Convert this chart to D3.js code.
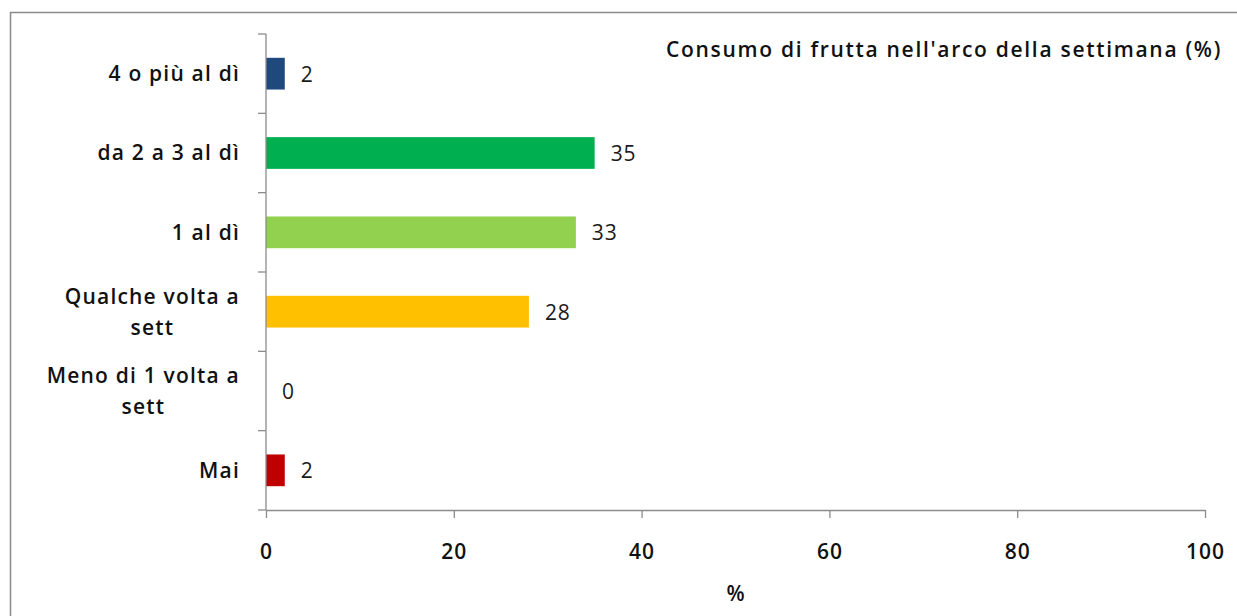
<!DOCTYPE html>
<html><head><meta charset="utf-8">
<script src="https://cdn.jsdelivr.net/npm/d3@7"></script>
<style>body{margin:0;background:#fff}svg{display:block}</style>
</head><body>
<svg id="c" width="1237" height="616"></svg>
<script>
const categories = ["4 o più al dì", "da 2 a 3 al dì", "1 al dì", "Qualche volta a sett", "Meno di 1 volta a sett", "Mai"];
const categoryLines = [["4 o più al dì"], ["da 2 a 3 al dì"], ["1 al dì"], ["Qualche volta a", "sett"], ["Meno di 1 volta a", "sett"], ["Mai"]];
const values = [2, 35, 33, 28, 0, 2];
const colors = ["#1F497D", "#00B050", "#92D050", "#FFC000", "#7F7F7F", "#C00000"];
const xTicks = [0, 20, 40, 60, 80, 100];
const title = "Consumo di frutta nell'arco della settimana (%)";
const xTitle = "%";

const font = "'Open Sans', sans-serif";
const fs = 21;
const ls = 1.2;
const svg = d3.select("#c");
const L = 266, R = 1205, T = 34, B = 510;
const axisColor = "#8c8c8c";

svg.append("rect").attr("x", 10.5).attr("y", 12.5).attr("width", 1240).attr("height", 620)
  .attr("fill", "none").attr("stroke", "#8a8a8a").attr("stroke-width", 1.5);

const x = d3.scaleLinear().domain([0, 100]).range([L, R]);
const y = d3.scaleBand().domain(categories).range([T, B]).paddingInner(0.6).paddingOuter(0.3);
const yb = d3.scaleBand().domain(categories).range([T, B]);

svg.selectAll("rect.bar").data(categories).join("rect")
  .attr("x", x(0)).attr("y", d => y(d))
  .attr("width", (d, i) => x(values[i]) - x(0))
  .attr("height", y.bandwidth())
  .attr("fill", (d, i) => colors[i]);

svg.selectAll("text.val").data(categories).join("text")
  .attr("x", (d, i) => x(values[i]) + 16)
  .attr("y", d => y(d) + y.bandwidth() / 2)
  .attr("dy", "0.38em")
  .attr("font-family", font).attr("font-size", fs).attr("letter-spacing", 0.8).attr("fill", "#1a1a1a")
  .text((d, i) => values[i]);

const yAxisG = svg.append("g");
yAxisG.append("line").attr("x1", L).attr("x2", L).attr("y1", T).attr("y2", B).attr("stroke", axisColor).attr("stroke-width", 1.3);
const yTickPos = categories.map(c => yb(c)).concat([B]);
yAxisG.selectAll("line.t").data(yTickPos).join("line")
  .attr("x1", L - 8).attr("x2", L).attr("y1", d => d).attr("y2", d => d)
  .attr("stroke", axisColor).attr("stroke-width", 1.3);

categories.forEach((c, i) => {
  const lines = categoryLines[i];
  const cy = yb(c) + yb.bandwidth() / 2;
  const lh = 31;
  const t = svg.append("text").attr("text-anchor", "middle")
    .attr("font-family", font).attr("font-size", fs).attr("font-weight", 600)
    .attr("letter-spacing", ls).attr("fill", "#111");
  const spans = lines.map((ln, j) => t.append("tspan")
      .attr("y", cy + (j - (lines.length - 1) / 2) * lh)
      .attr("dy", "0.35em").text(ln));
  const maxW = d3.max(spans, s => s.node().getComputedTextLength());
  spans.forEach(s => s.attr("x", 240 - maxW / 2));
});

const xAxis = d3.axisBottom(x).tickValues(xTicks).tickSize(8).tickSizeOuter(0).tickPadding(26);
const gx = svg.append("g").attr("transform", `translate(0,${B})`).call(xAxis);
gx.select(".domain").attr("stroke", axisColor).attr("stroke-width", 1.3);
gx.selectAll(".tick line").attr("stroke", axisColor).attr("stroke-width", 1.3);
gx.selectAll(".tick text").attr("font-family", font).attr("font-size", fs).attr("font-weight", 600)
  .attr("letter-spacing", 1).attr("fill", "#111");

svg.append("text").attr("x", x(50)).attr("y", 601).attr("text-anchor", "middle")
  .attr("font-family", font).attr("font-size", fs).attr("font-weight", 600).attr("fill", "#111").text(xTitle);

svg.append("text").attr("x", 1222).attr("y", 57).attr("text-anchor", "end")
  .attr("font-family", font).attr("font-size", fs).attr("font-weight", 600)
  .attr("letter-spacing", 1.7).attr("fill", "#111").text(title);
</script>
</body></html>
